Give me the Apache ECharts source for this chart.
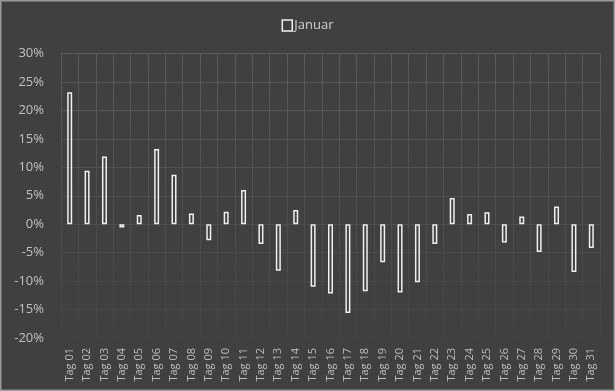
<!DOCTYPE html>
<html>
<head>
<meta charset="utf-8">
<script src="https://cdn.jsdelivr.net/npm/echarts@6/dist/echarts.min.js"></script>
<style>
html,body{margin:0;padding:0;background:#404040;}
#c{width:615px;height:391px;}
</style>
</head>
<body>
<div id="c"></div>
<script>
var categories = ['Tag 01','Tag 02','Tag 03','Tag 04','Tag 05','Tag 06','Tag 07','Tag 08','Tag 09','Tag 10',
  'Tag 11','Tag 12','Tag 13','Tag 14','Tag 15','Tag 16','Tag 17','Tag 18','Tag 19','Tag 20',
  'Tag 21','Tag 22','Tag 23','Tag 24','Tag 25','Tag 26','Tag 27','Tag 28','Tag 29','Tag 30','Tag 31'];
var januarValues = [23.2, 9.4, 11.9, -0.6, 1.6, 13.2, 8.7, 1.9, -2.8, 2.2,
  6.0, -3.5, -8.2, 2.5, -11.0, -12.2, -15.6, -11.8, -6.7, -12.0,
  -10.2, -3.5, 4.6, 1.8, 2.1, -3.2, 1.35, -4.9, 3.1, -8.4, -4.2];
var seriesName = 'Januar';
var yMin = -20, yMax = 30, yStep = 5;

var chart = echarts.init(document.getElementById('c'));
var gridGrad = {
  type: 'linear', x: 0, y: 53, x2: 0, y2: 338, global: true,
  colorStops: [{offset: 0, color: '#5b5b5b'}, {offset: 1, color: '#454545'}]
};
chart.setOption({
  backgroundColor: '#404040',
  animation: false,
  textStyle: {fontFamily: 'Open Sans'},
  graphic: [{
    type: 'rect', shape: {x: 0.5, y: 0.5, width: 614, height: 390},
    style: {fill: 'none', stroke: '#9a9a9a', lineWidth: 2}, silent: true
  }],
  legend: {
    data: [seriesName], top: 14, left: 'center',
    icon: 'rect', itemWidth: 10, itemHeight: 11, itemGap: 4,
    itemStyle: {color: 'transparent', borderColor: '#f0f0f0', borderWidth: 1.5},
    textStyle: {color: '#d0d0d0', fontSize: 13, fontFamily: 'Open Sans', padding: [0, 0, 0, -3]}
  },
  grid: {left: 61, right: 15, top: 53.5, bottom: 53},
  xAxis: {
    type: 'category', data: categories, boundaryGap: true,
    axisLine: {show: false}, axisTick: {show: false},
    splitLine: {show: true, interval: 0, lineStyle: {color: gridGrad, width: 1}},
    axisLabel: {rotate: 90, interval: 0, color: '#bdbdbd', fontSize: 11, margin: 10, fontFamily: 'Open Sans'}
  },
  yAxis: {
    type: 'value', min: yMin, max: yMax, interval: yStep,
    axisLine: {show: false}, axisTick: {show: false},
    splitLine: {show: true, lineStyle: {color: gridGrad, width: 1}},
    axisLabel: {formatter: '{value}%', color: '#c0c0c0', fontSize: 13, margin: 17, fontFamily: 'Open Sans'}
  },
  series: [{
    name: seriesName, type: 'bar', data: januarValues, barWidth: 5,
    itemStyle: {color: 'transparent', borderColor: '#f0f0f0', borderWidth: 1.5}
  }]
});
</script>
</body>
</html>
